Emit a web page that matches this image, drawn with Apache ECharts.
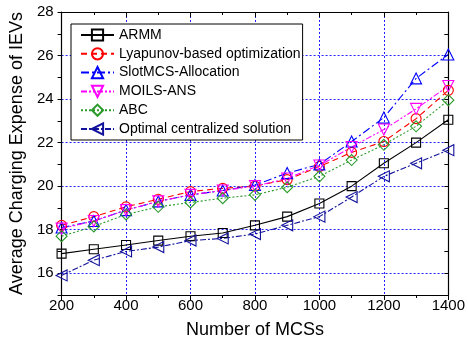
<!DOCTYPE html>
<html>
<head>
<meta charset="utf-8">
<script src="https://cdn.jsdelivr.net/npm/echarts@6/dist/echarts.min.js"></script>
<style>
  html, body { margin: 0; padding: 0; background: #fff; }
  #chart { width: 468px; height: 344px; }
</style>
</head>
<body>
<div id="chart"></div>
<script>
// number of MCSs on the x axis
const mcsCounts = [200, 300, 400, 500, 600, 700, 800, 900, 1000, 1100, 1200, 1300, 1400];

// average charging expense per scheme
const armm = [16.9, 17.1, 17.3, 17.5, 17.7, 17.85, 18.2, 18.6, 19.2, 20.0, 21.05, 22.0, 23.05];
const lyapunov = [18.2, 18.6, 19.05, 19.4, 19.75, 19.9, 20.0, 20.3, 20.9, 21.55, 22.05, 23.1, 24.4];
const slotMcs = [18.1, 18.4, 18.9, 19.3, 19.6, 19.8, 20.05, 20.6, 21.0, 22.05, 23.15, 24.95, 26.05];
const moils = [18.05, 18.4, 18.9, 19.3, 19.6, 19.8, 20.0, 20.35, 20.95, 21.8, 22.6, 23.55, 24.6];
const abc = [17.7, 18.15, 18.7, 19.05, 19.25, 19.45, 19.6, 19.95, 20.45, 21.2, 21.9, 22.75, 23.95];
const optimal = [15.9, 16.6, 17.0, 17.2, 17.5, 17.6, 17.8, 18.2, 18.6, 19.5, 20.45, 21.05, 21.65];

const seriesNames = [
  "ARMM",
  "Lyapunov-based optimization",
  "SlotMCS-Allocation",
  "MOILS-ANS",
  "ABC",
  "Optimal centralized solution",
];

const chart = echarts.init(document.getElementById("chart"));
const font = "Liberation Sans, Arial, sans-serif";
const gridBlue = "#2222ff";

// one style entry per curve: color, dash, marker
const styles = [
  { data: armm, color: "#000000", dash: "solid", symbol: "rect", size: 9, rotate: 0 },
  { data: lyapunov, color: "#ff0000", dash: [6, 4], symbol: "circle", size: 10, rotate: 0 },
  { data: slotMcs, color: "#0000ff", dash: [8, 3, 2, 3], symbol: "triangle", size: 11, rotate: 0 },
  { data: moils, color: "#ff00ff", dash: [6, 2, 2, 2, 2, 2], symbol: "triangle", size: 11, rotate: 180 },
  { data: abc, color: "#2a9a2a", dash: [2, 2], symbol: "path://M0,-1L1,0L0,1L-1,0Z", size: 11, rotate: 0 },
  { data: optimal, color: "#12129c", dash: [6, 2, 2, 2], symbol: "triangle", size: 11, rotate: 90 },
];

const series = styles.map((s, i) => ({
  name: seriesNames[i],
  type: "line",
  data: mcsCounts.map((x, j) => [x, s.data[j]]),
  symbol: s.symbol,
  symbolSize: s.size,
  symbolRotate: s.rotate,
  lineStyle: { color: s.color, width: 1.1, type: s.dash },
  itemStyle: { color: "transparent", borderColor: s.color, borderWidth: 1.1 },
  emphasis: { disabled: true },
  animation: false,
}));

const frameLine = { show: true, lineStyle: { color: "#000", width: 1.2 } };

const option = {
  backgroundColor: "#fff",
  grid: { left: 57, right: 17, top: 12, bottom: 44 },
  legend: {
    orient: "vertical",
    left: 71,
    top: 24,
    data: seriesNames,
    itemWidth: 33,
    itemHeight: 14,
    itemGap: 4.8,
    padding: [4, 2, 4, 9],
    backgroundColor: "#fff",
    borderColor: "#000",
    borderWidth: 1,
    borderRadius: 0,
    selectedMode: false,
    textStyle: { fontFamily: font, fontSize: 14, color: "#000" },
  },
  xAxis: [
    {
      type: "value",
      min: 200,
      max: 1400,
      interval: 200,
      name: "Number of MCSs",
      nameLocation: "middle",
      nameGap: 26,
      nameTextStyle: { fontFamily: font, fontSize: 18, color: "#000" },
      axisLine: frameLine,
      axisTick: { show: true, length: 5, lineStyle: { color: "#000" } },
      minorTick: { show: true, splitNumber: 2, length: 3, lineStyle: { color: "#000" } },
      axisLabel: { fontFamily: font, fontSize: 15, color: "#000", margin: 3, formatter: (v) => String(v) },
      splitLine: { show: true, lineStyle: { color: gridBlue, type: [2, 2], width: 1 } },
    },
    {
      type: "value",
      position: "top",
      min: 200,
      max: 1400,
      interval: 200,
      axisLine: frameLine,
      axisTick: { show: true, inside: true, length: 5, lineStyle: { color: "#000" } },
      minorTick: { show: true, splitNumber: 2, length: 3, lineStyle: { color: "#000" } },
      axisLabel: { show: false },
      splitLine: { show: false },
    },
  ],
  yAxis: [
    {
      type: "value",
      min: 15,
      max: 28,
      interval: 1,
      name: "Average Charging Expense of IEVs",
      nameLocation: "middle",
      nameGap: 22,
      nameTextStyle: { fontFamily: font, fontSize: 18, color: "#000" },
      axisLine: frameLine,
      axisTick: { show: true, length: 4, lineStyle: { color: "#000" } },
      axisLabel: {
        fontFamily: font, fontSize: 15, color: "#000", margin: 8,
        formatter: (v) => (v % 2 === 0 ? String(v) : ""),
      },
      // grid lines only at the even values
      splitLine: { show: true, lineStyle: { color: ["transparent", gridBlue], type: [2, 2], width: 1 } },
    },
    {
      type: "value",
      position: "right",
      min: 15,
      max: 28,
      interval: 1,
      axisLine: frameLine,
      axisTick: { show: true, inside: true, length: 4, lineStyle: { color: "#000" } },
      axisLabel: { show: false },
      splitLine: { show: false },
    },
  ],
  series: series,
};

chart.setOption(option);
</script>
</body>
</html>
